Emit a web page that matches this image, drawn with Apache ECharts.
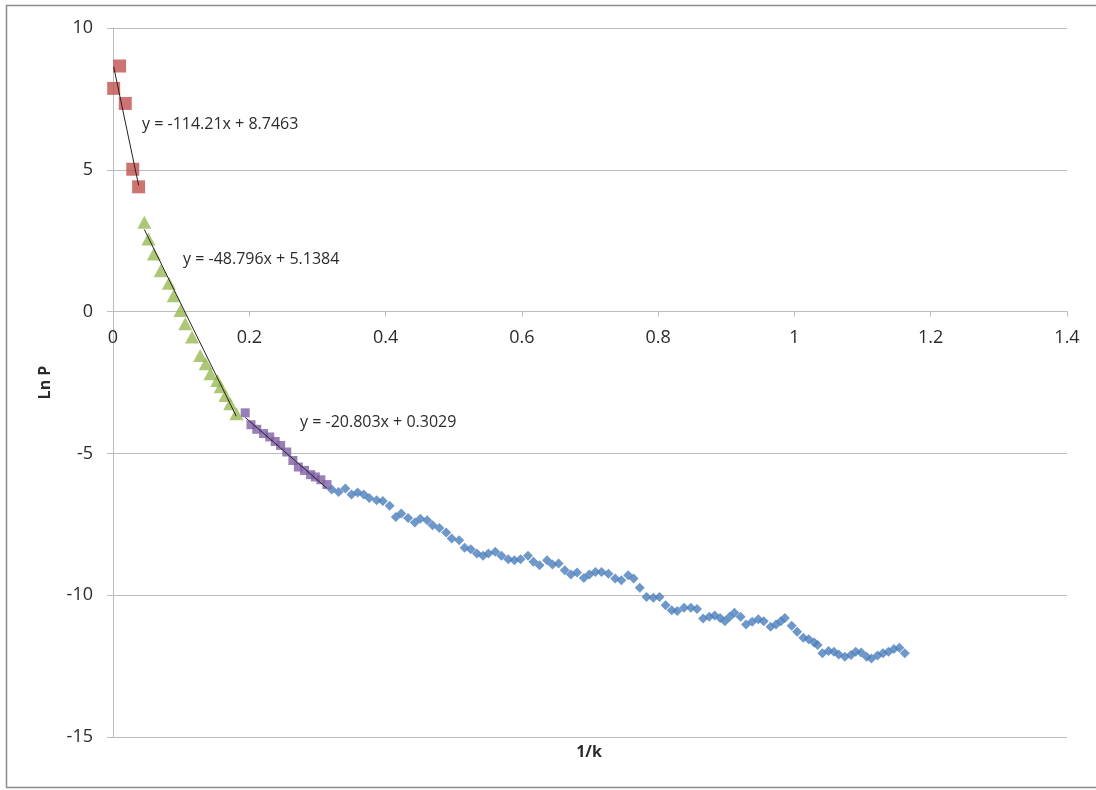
<!DOCTYPE html>
<html>
<head>
<meta charset="utf-8">
<script src="https://cdn.jsdelivr.net/npm/echarts@6/dist/echarts.min.js"></script>
<style>
html,body{margin:0;padding:0;background:#fff;}
#chart{width:1096px;height:790px;}
</style>
</head>
<body>
<div id="chart"></div>
<script>
// ---- data ----
const redX = [0.001, 0.0097, 0.018, 0.029, 0.0376];
const redY = [7.87, 8.66, 7.34, 5.02, 4.40];

const greenX = [0.046, 0.052, 0.060, 0.070, 0.082, 0.089, 0.099, 0.106, 0.116, 0.128, 0.136, 0.143, 0.153, 0.158, 0.165, 0.172, 0.181];
const greenY = [3.15, 2.56, 2.03, 1.44, 1.00, 0.56, 0.04, -0.43, -0.90, -1.55, -1.84, -2.19, -2.43, -2.65, -2.96, -3.25, -3.60];

const purpleX = [0.194, 0.2025, 0.211, 0.221, 0.230, 0.238, 0.246, 0.255, 0.264, 0.272, 0.281, 0.290, 0.297, 0.305, 0.314];
const purpleY = [-3.57, -3.99, -4.15, -4.30, -4.42, -4.58, -4.72, -4.95, -5.25, -5.48, -5.60, -5.75, -5.83, -5.93, -6.10];

const blueX = [
  0.321, 0.331, 0.341, 0.350, 0.359, 0.368, 0.376, 0.387, 0.396, 0.406,
  0.415, 0.423, 0.433, 0.443, 0.451, 0.461, 0.469, 0.479, 0.489, 0.497,
  0.508, 0.516, 0.525, 0.534, 0.543, 0.551, 0.561, 0.570, 0.580, 0.589,
  0.598, 0.609, 0.617, 0.626, 0.637, 0.645, 0.654, 0.663, 0.672, 0.681,
  0.691, 0.699, 0.708, 0.717, 0.727, 0.737, 0.746, 0.756, 0.764, 0.773,
  0.783, 0.793, 0.802, 0.811, 0.820, 0.828, 0.838, 0.848, 0.857, 0.866,
  0.875, 0.883, 0.891, 0.898, 0.905, 0.912, 0.921, 0.929, 0.938, 0.947,
  0.955, 0.965, 0.973, 0.980, 0.986, 0.996, 1.004, 1.013, 1.021, 1.029,
  1.034, 1.041, 1.050, 1.058, 1.065, 1.074, 1.083, 1.090, 1.098, 1.106,
  1.113, 1.122, 1.130, 1.138, 1.146, 1.154, 1.162
];
const blueY = [
  -6.27, -6.36, -6.24, -6.45, -6.38, -6.45, -6.57, -6.65, -6.68, -6.85,
  -7.24, -7.12, -7.28, -7.44, -7.30, -7.36, -7.53, -7.63, -7.79, -8.00,
  -8.06, -8.33, -8.38, -8.53, -8.61, -8.53, -8.47, -8.61, -8.73, -8.77,
  -8.73, -8.61, -8.82, -8.94, -8.77, -8.92, -8.88, -9.12, -9.27, -9.20,
  -9.39, -9.27, -9.18, -9.18, -9.24, -9.41, -9.47, -9.30, -9.41, -9.74,
  -10.06, -10.09, -10.06, -10.35, -10.53, -10.56, -10.44, -10.44, -10.49, -10.82,
  -10.76, -10.72, -10.80, -10.92, -10.76, -10.62, -10.76, -11.03, -10.94, -10.85,
  -10.92, -11.11, -11.03, -10.92, -10.80, -11.08, -11.29, -11.50, -11.55, -11.67,
  -11.76, -12.05, -11.97, -11.99, -12.09, -12.17, -12.11, -11.99, -12.02, -12.17,
  -12.23, -12.13, -12.05, -11.99, -11.90, -11.85, -12.05
];

// trendline coefficients (from the equations shown)
const trendSlopes = [-114.21, -48.796, -20.803];
const trendIntercepts = [8.7463, 5.1384, 0.3029];
const trendLabels = ['y = -114.21x + 8.7463', 'y = -48.796x + 5.1384', 'y = -20.803x + 0.3029'];

const xTicks = [0, 0.2, 0.4, 0.6, 0.8, 1, 1.2, 1.4];
const yTicks = [-15, -10, -5, 0, 5, 10];
const xTitle = '1/k';
const yTitle = 'Ln P';

// ---- build ----
const zip = (xs, ys) => xs.map((x, i) => [x, ys[i]]);
const groupsX = [redX, greenX, purpleX];
const trendData = groupsX.map((xs, i) => {
  const x0 = Math.min(...xs), x1 = Math.max(...xs);
  return [[x0, trendSlopes[i] * x0 + trendIntercepts[i]], [x1, trendSlopes[i] * x1 + trendIntercepts[i]]];
});

const FONT = '"Open Sans", "Liberation Sans", sans-serif';
const gridColor = '#bdbdbd';
const textColor = '#2b2b2b';
const GRID = {left: 113, right: 29, top: 28, bottom: 53};
const H = 790;

const chart = echarts.init(document.getElementById('chart'), null, {renderer: 'canvas'});
const option = {
  animation: false,
  backgroundColor: '#ffffff',
  grid: GRID,
  xAxis: {
    type: 'value', min: xTicks[0], max: xTicks[xTicks.length - 1], interval: 0.2,
    position: 'bottom', offset: 0,
    axisLine: {show: true, onZero: false, lineStyle: {color: gridColor, width: 1}},
    axisTick: {show: true, length: 5, lineStyle: {color: gridColor}},
    axisLabel: {margin: 17, color: textColor, fontFamily: FONT, fontSize: 18},
    splitLine: {show: false}
  },
  yAxis: {
    type: 'value', min: yTicks[0], max: yTicks[yTicks.length - 1], interval: 5,
    name: yTitle, nameLocation: 'middle', nameGap: 60,
    nameTextStyle: {fontFamily: FONT, fontSize: 16, fontWeight: 'bold', color: textColor},
    axisLine: {show: true, onZero: false, lineStyle: {color: gridColor, width: 1}},
    axisTick: {show: true, length: 6, lineStyle: {color: gridColor}},
    axisLabel: {margin: 20, color: textColor, fontFamily: FONT, fontSize: 18},
    splitLine: {show: true, lineStyle: {color: gridColor, width: 1}}
  },
  series: [
    {type: 'scatter', name: 'blue', data: zip(blueX, blueY), symbol: 'diamond', symbolSize: 10,
     itemStyle: {color: '#4A7EBB'}, z: 2},
    {type: 'scatter', name: 'purple', data: zip(purpleX, purpleY), symbol: 'rect', symbolSize: 9,
     itemStyle: {color: '#7F5FA6'}, z: 2},
    {type: 'scatter', name: 'green', data: zip(greenX, greenY), symbol: 'triangle', symbolSize: [14, 13],
     itemStyle: {color: '#98B954'}, z: 2},
    {type: 'scatter', name: 'red', data: zip(redX, redY), symbol: 'rect', symbolSize: 13,
     itemStyle: {color: '#C0504D'}, z: 2},
  ].concat(trendData.map((d, i) => ({
    type: 'line', name: 'trend' + i, data: d, symbol: 'none',
    lineStyle: {color: '#222', width: 1}, z: 5, silent: true
  }))),
  graphic: [
    {type: 'rect', shape: {x: 6.5, y: 5.5, width: 1200, height: 782}, style: {fill: 'none', stroke: '#8c8c8c', lineWidth: 1.5}, z: 100},
    {type: 'text', style: {text: trendLabels[0], x: 142, y: 124, verticalAlign: 'middle', align: 'left', font: '16px ' + FONT, fill: textColor}, z: 50},
    {type: 'text', style: {text: trendLabels[1], x: 183, y: 259, verticalAlign: 'middle', align: 'left', font: '16px ' + FONT, fill: textColor}, z: 50},
    {type: 'text', style: {text: trendLabels[2], x: 300, y: 422, verticalAlign: 'middle', align: 'left', font: '16px ' + FONT, fill: textColor}, z: 50},
    {type: 'text', style: {text: xTitle, x: 589, y: 752, verticalAlign: 'middle', align: 'center', font: 'bold 16px ' + FONT, fill: textColor}, z: 50}
  ]
};
chart.setOption(option);
// move the x axis (line, ticks, labels) up to y = 0, as in the reference
const zeroPx = chart.convertToPixel({yAxisIndex: 0}, 0);
const bottomPx = H - GRID.bottom;
chart.setOption({xAxis: {offset: -(bottomPx - zeroPx)}});
</script>
</body>
</html>
